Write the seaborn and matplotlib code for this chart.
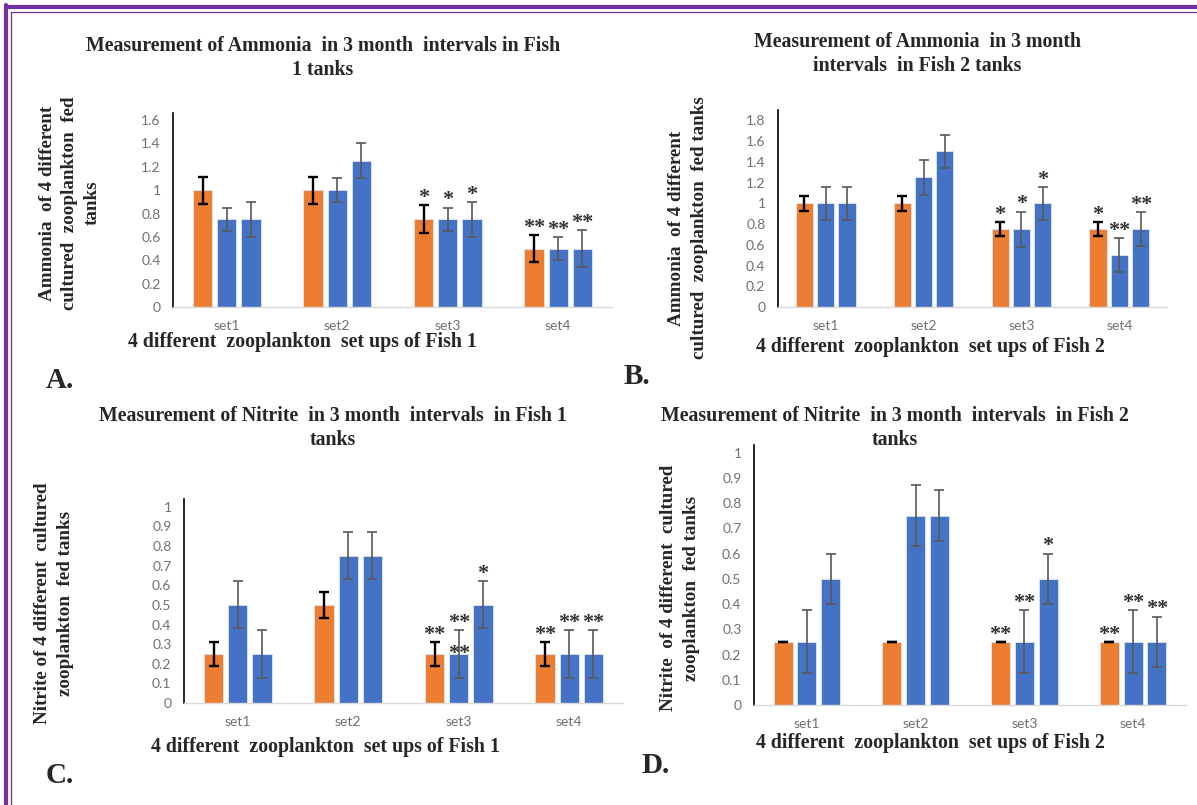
import numpy as np
import pandas as pd
import matplotlib.pyplot as plt
import seaborn as sns
from matplotlib.lines import Line2D
from matplotlib.container import BarContainer

sns.set_style('white')
plt.rcParams['font.family'] = ['Lato', 'DejaVu Sans']

W, H = 1197, 805

sets = ['set1', 'set2', 'set3', 'set4']
series = ['S1', 'S2', 'S3']
pal = {'S1': '#ED7D31', 'S2': '#4472C4', 'S3': '#4472C4'}

# values [set][series]
amm1_vals = [[1.0, 0.75, 0.75], [1.0, 1.0, 1.25], [0.75, 0.75, 0.75], [0.5, 0.5, 0.5]]
amm1_err = [[0.115, 0.1, 0.15], [0.115, 0.1, 0.15], [0.12, 0.1, 0.15], [0.115, 0.1, 0.16]]
amm1_stars = [['', '', ''], ['', '', ''], ['*', '*', '*'], ['**', '**', '**']]

amm2_vals = [[1.0, 1.0, 1.0], [1.0, 1.25, 1.5], [0.75, 0.75, 1.0], [0.75, 0.5, 0.75]]
amm2_err = [[0.07, 0.16, 0.16], [0.07, 0.165, 0.16], [0.07, 0.17, 0.16], [0.07, 0.165, 0.165]]
amm2_stars = [['', '', ''], ['', '', ''], ['*', '*', '*'], ['*', '**', '**']]

nit1_vals = [[0.25, 0.5, 0.25], [0.5, 0.75, 0.75], [0.25, 0.25, 0.5], [0.25, 0.25, 0.25]]
nit1_err = [[0.06, 0.12, 0.12], [0.065, 0.12, 0.12], [0.06, 0.12, 0.12], [0.06, 0.12, 0.12]]
nit1_stars = [['', '', ''], ['', '', ''], ['**', '**', '*'], ['**', '**', '**']]
nit1_inner = [['', '', ''], ['', '', ''], ['', '**', ''], ['', '', '']]

nit2_vals = [[0.25, 0.25, 0.5], [0.25, 0.75, 0.75], [0.25, 0.25, 0.5], [0.25, 0.25, 0.25]]
nit2_err = [[0.0, 0.125, 0.1], [0.0, 0.12, 0.1], [0.0, 0.125, 0.1], [0.0, 0.125, 0.1]]
nit2_stars = [['', '', ''], ['', '', ''], ['**', '**', '*'], ['**', '**', '**']]


def to_frame(vals):
    rows = []
    for s, row in zip(sets, vals):
        for name, v in zip(series, row):
            rows.append({'set': s, 'series': name, 'value': v})
    return pd.DataFrame(rows)


def fx(x):
    return x / W


def fy(y):
    return 1 - y / H


def box(l, r, b, t):
    return [l / W, 1 - b / H, (r - l) / W, (b - t) / H]


serif_b = dict(family='Liberation Serif', fontweight='bold')

fig = plt.figure(figsize=(W / 100, H / 100), dpi=100)

panels = [
    dict(pos=box(173, 612, 307, 113), ymax=1.66, yticks=np.arange(0, 1.61, 0.2),
         vals=amm1_vals, err=amm1_err, stars=amm1_stars, inner=None,
         title='Measurement of Ammonia  in 3 month  intervals in Fish\n1 tanks', tpos=(323, 58),
         ylab='Ammonia  of 4 different\ncultured  zooplankton  fed\ntanks', ypos=(70, 203),
         xlab='4 different  zooplankton  set ups of Fish 1', xpos=(302, 342),
         tag='A.', gpos=(60, 380)),
    dict(pos=box(778, 1167, 307, 110), ymax=1.90, yticks=np.arange(0, 1.81, 0.2),
         vals=amm2_vals, err=amm2_err, stars=amm2_stars, inner=None,
         title='Measurement of Ammonia  in 3 month\nintervals  in Fish 2 tanks', tpos=(917, 54),
         ylab='Ammonia  of 4 different\ncultured  zooplankton  fed tanks', ypos=(688, 228),
         xlab='4 different  zooplankton  set ups of Fish 2', xpos=(930, 347),
         tag='B.', gpos=(637, 377)),
    dict(pos=box(184, 623, 703, 499), ymax=1.04, yticks=np.arange(0, 1.01, 0.1),
         vals=nit1_vals, err=nit1_err, stars=nit1_stars, inner=nit1_inner,
         title='Measurement of Nitrite  in 3 month  intervals  in Fish 1\ntanks', tpos=(333, 428),
         ylab='Nitrite of 4 different  cultured\nzooplankton  fed tanks', ypos=(54, 603),
         xlab='4 different  zooplankton  set ups of Fish 1', xpos=(325, 747),
         tag='C.', gpos=(60, 775)),
    dict(pos=box(754, 1186, 705, 445), ymax=1.03, yticks=np.arange(0, 1.01, 0.1),
         vals=nit2_vals, err=nit2_err, stars=nit2_stars, inner=None,
         title='Measurement of Nitrite  in 3 month  intervals  in Fish 2\ntanks', tpos=(895, 428),
         ylab='Nitrite  of 4 different  cultured\nzooplankton  fed tanks', ypos=(680, 588),
         xlab='4 different  zooplankton  set ups of Fish 2', xpos=(930, 743),
         tag='D.', gpos=(656, 765)),
]

for p in panels:
    ax = fig.add_axes(p['pos'])
    df = to_frame(p['vals'])
    sns.barplot(data=df, x='set', y='value', hue='series', palette=pal, order=sets,
                hue_order=series, width=0.655, gap=0.2, errorbar=None, legend=False,
                saturation=1, edgecolor='#DCE6F5', linewidth=0.6, ax=ax)
    bar_groups = [c for c in ax.containers if isinstance(c, BarContainer)]
    for j, cont in enumerate(bar_groups):
        ecol = 'black' if j == 0 else '#595959'
        elw = 1.7 if j == 0 else 1.2
        for i, bar in enumerate(cont.patches):
            cx = bar.get_x() + bar.get_width() / 2
            h = bar.get_height()
            e = p['err'][i][j]
            ax.errorbar(cx, h, yerr=e, fmt='none', ecolor=ecol, elinewidth=elw,
                        capsize=3.5, capthick=elw, zorder=3)
            if p['stars'][i][j]:
                ax.annotate(p['stars'][i][j], (cx, h + e), xytext=(0, -2),
                            textcoords='offset points', ha='center', va='bottom',
                            fontsize=16, fontweight='bold', color='#333333',
                            family='Liberation Serif')
            if p['inner'] and p['inner'][i][j]:
                ax.annotate(p['inner'][i][j], (cx, h), xytext=(0, 0),
                            textcoords='offset points', ha='center', va='center',
                            fontsize=16, fontweight='bold', color='#333333',
                            family='Liberation Serif')
    ax.set_ylim(0, p['ymax'])
    ax.set_yticks(p['yticks'])
    ax.set_yticklabels([f'{v:g}' for v in np.round(p['yticks'], 1)])
    ax.set_xlabel('')
    ax.set_ylabel('')
    ax.tick_params(axis='both', length=0, labelsize=10, labelcolor='#707070', pad=9)
    for s in ['top', 'right']:
        ax.spines[s].set_visible(False)
    ax.spines['left'].set_color('black')
    ax.spines['left'].set_linewidth(1.2)
    ax.spines['bottom'].set_color('#D9D9D9')
    ax.spines['bottom'].set_linewidth(1.0)

    fig.text(fx(p['tpos'][0]), fy(p['tpos'][1]), p['title'], ha='center', va='center',
             fontsize=14.3, linespacing=1.25, **serif_b)
    fig.text(fx(p['ypos'][0]), fy(p['ypos'][1]), p['ylab'], ha='center', va='center',
             rotation=90, fontsize=13.7, linespacing=1.4, multialignment='center', **serif_b)
    fig.text(fx(p['xpos'][0]), fy(p['xpos'][1]), p['xlab'], ha='center', va='center',
             fontsize=14.3, **serif_b)
    fig.text(fx(p['gpos'][0]), fy(p['gpos'][1]), p['tag'], ha='center', va='center',
             fontsize=21, **serif_b)

# purple frame, top and left edges only
purple = '#7030A0'
fig.add_artist(Line2D([fx(6), fx(W)], [fy(7), fy(7)], color=purple, lw=3.0))
fig.add_artist(Line2D([fx(6), fx(6)], [fy(5.5), fy(H)], color=purple, lw=3.0))
fig.add_artist(Line2D([fx(11), fx(W)], [fy(12), fy(12)], color=purple, lw=0.9))
fig.add_artist(Line2D([fx(11), fx(11)], [fy(12), fy(H)], color=purple, lw=0.9))

fig.savefig('out.png', dpi=100)
